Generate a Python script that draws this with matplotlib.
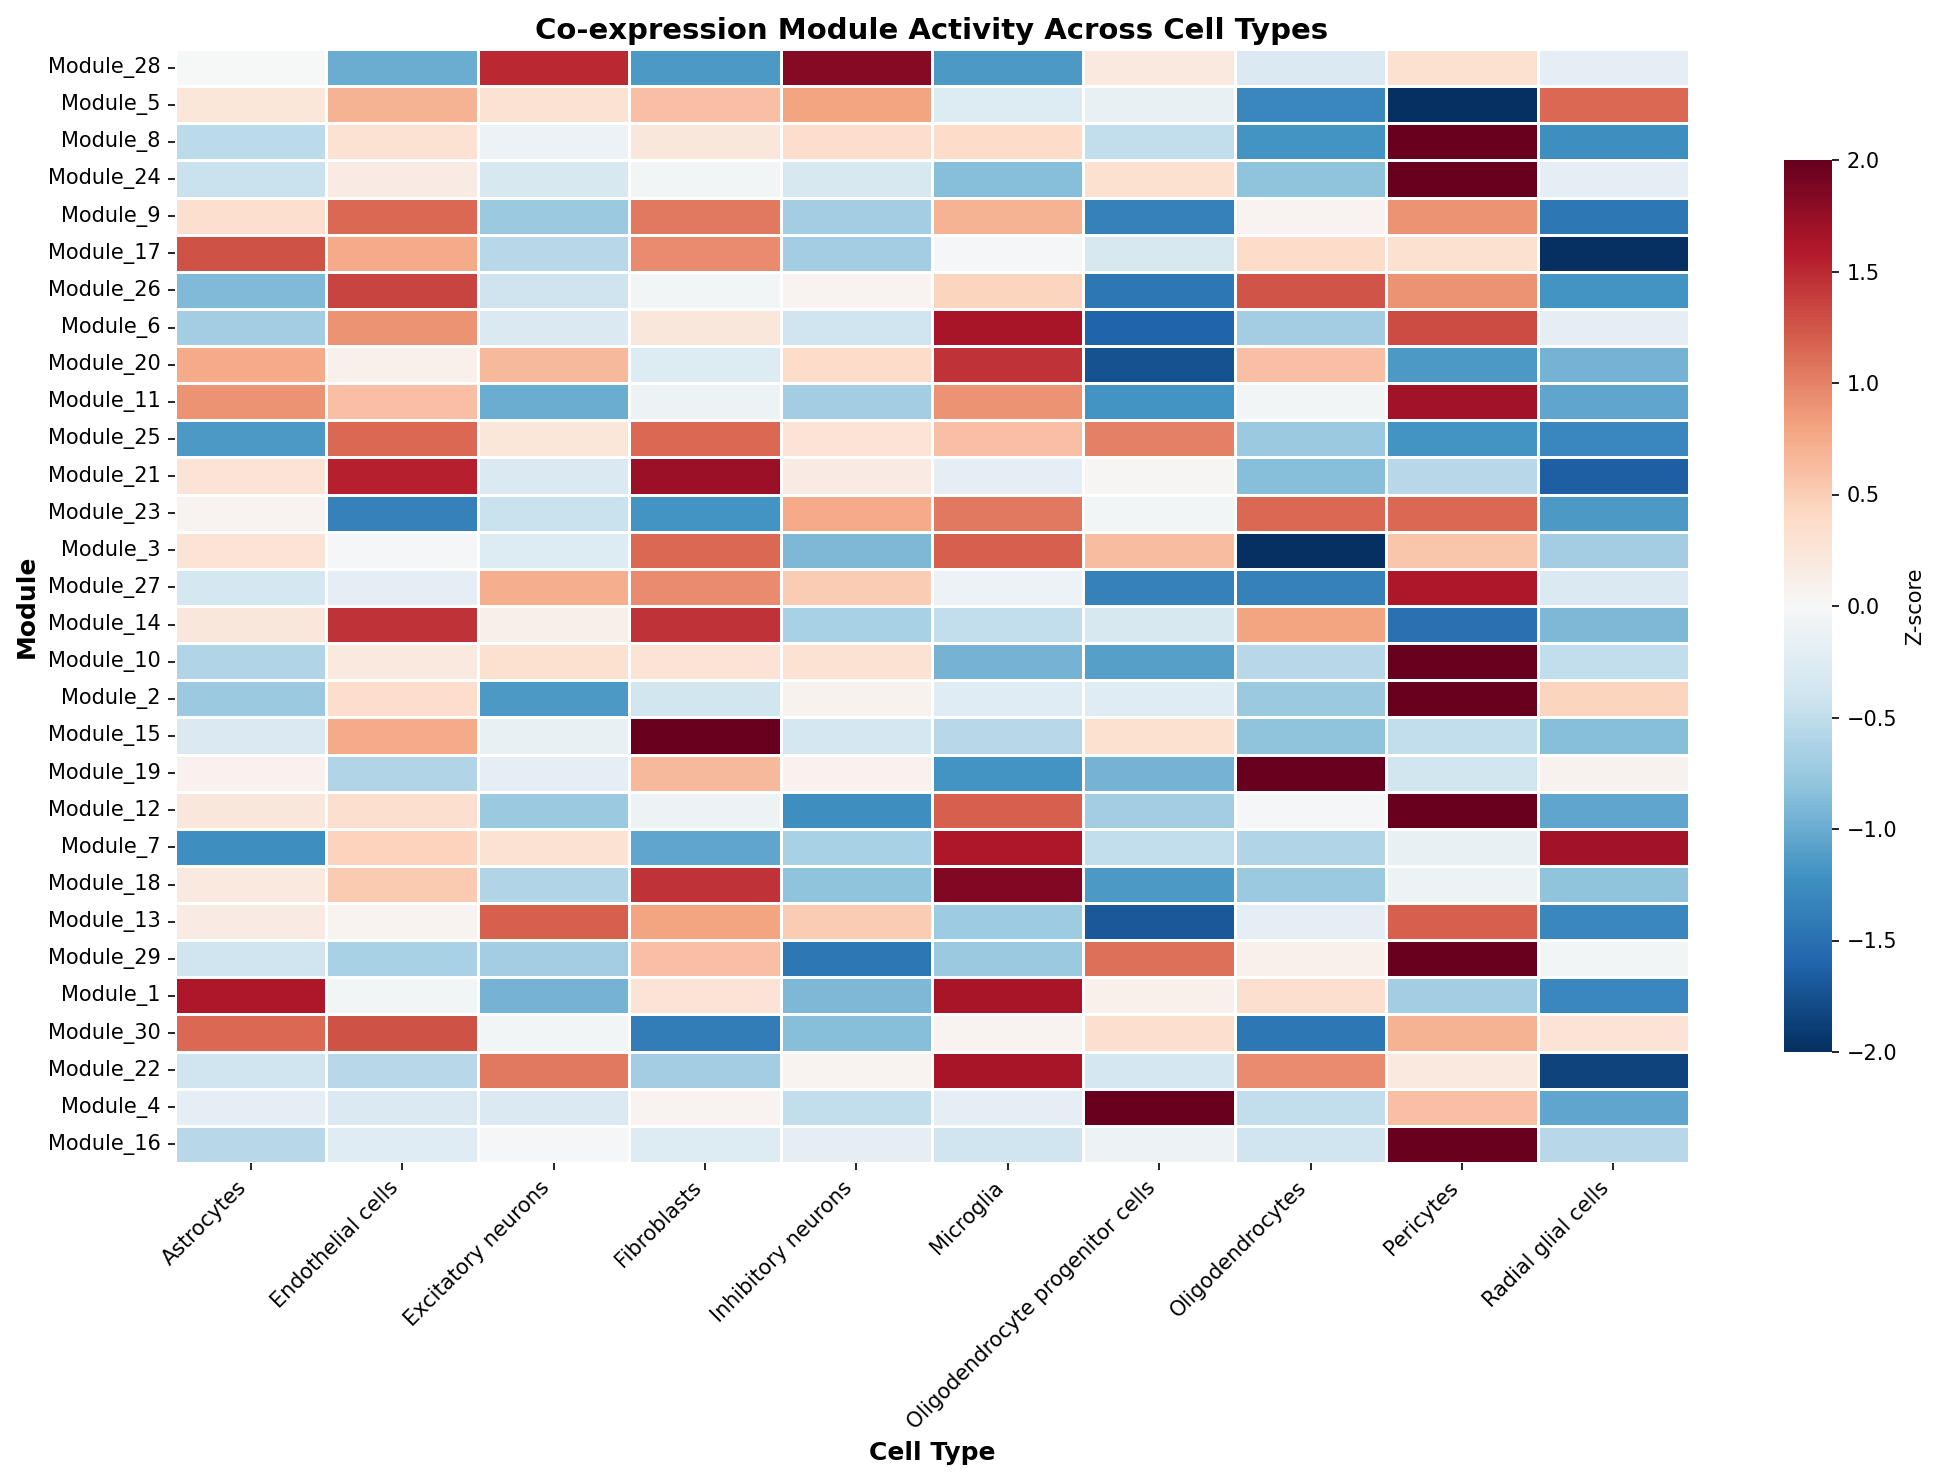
"""Heatmap of co-expression module activity across cell types."""

import matplotlib

matplotlib.use("Agg")
import matplotlib.pyplot as plt
import pandas as pd
import seaborn as sns

cell_types = [
    "Astrocytes", "Endothelial cells", "Excitatory neurons", "Fibroblasts",
    "Inhibitory neurons", "Microglia", "Oligodendrocyte progenitor cells",
    "Oligodendrocytes", "Pericytes", "Radial glial cells",
]
modules = [
    "Module_28", "Module_5", "Module_8", "Module_24", "Module_9", "Module_17",
    "Module_26", "Module_6", "Module_20", "Module_11", "Module_25", "Module_21",
    "Module_23", "Module_3", "Module_27", "Module_14", "Module_10", "Module_2",
    "Module_15", "Module_19", "Module_12", "Module_7", "Module_18", "Module_13",
    "Module_29", "Module_1", "Module_30", "Module_22", "Module_4", "Module_16",
]
zscores = [
    [-0.01, -1.0, 1.5, -1.15, 1.82, -1.15, 0.2, -0.3, 0.32, -0.2],
    [0.24, 0.7, 0.3, 0.6, 0.8, -0.28, -0.15, -1.3, -2.0, 1.15],
    [-0.54, 0.3, -0.12, 0.22, 0.36, 0.38, -0.5, -1.2, 2.0, -1.25],
    [-0.45, 0.16, -0.33, -0.05, -0.33, -0.85, 0.32, -0.8, 2.0, -0.2],
    [0.34, 1.15, -0.75, 1.05, -0.7, 0.7, -1.35, 0.05, 0.9, -1.45],
    [1.28, 0.75, -0.55, 0.95, -0.7, -0.02, -0.33, 0.38, 0.32, -2.0],
    [-0.88, 1.35, -0.42, -0.05, 0.05, 0.45, -1.45, 1.25, 0.9, -1.2],
    [-0.7, 0.9, -0.3, 0.22, -0.4, 1.65, -1.6, -0.7, 1.3, -0.2],
    [0.75, 0.1, 0.65, -0.28, 0.38, 1.45, -1.75, 0.6, -1.15, -0.95],
    [0.9, 0.6, -1.0, -0.1, -0.7, 0.9, -1.2, -0.05, 1.68, -1.05],
    [-1.15, 1.15, 0.24, 1.15, 0.28, 0.6, 1.0, -0.75, -1.2, -1.3],
    [0.28, 1.55, -0.3, 1.72, 0.17, -0.2, 0.03, -0.85, -0.55, -1.65],
    [0.05, -1.35, -0.45, -1.2, 0.75, 1.05, -0.05, 1.15, 1.15, -1.15],
    [0.28, -0.02, -0.28, 1.15, -0.9, 1.2, 0.62, -2.0, 0.55, -0.7],
    [-0.35, -0.2, 0.72, 0.95, 0.5, -0.12, -1.35, -1.35, 1.62, -0.3],
    [0.22, 1.45, 0.12, 1.45, -0.65, -0.5, -0.33, 0.8, -1.5, -0.9],
    [-0.6, 0.2, 0.32, 0.28, 0.3, -0.95, -1.1, -0.55, 2.0, -0.5],
    [-0.75, 0.36, -1.15, -0.38, 0.07, -0.25, -0.25, -0.75, 2.0, 0.44],
    [-0.3, 0.75, -0.15, 2.0, -0.35, -0.55, 0.32, -0.8, -0.5, -0.85],
    [0.08, -0.6, -0.2, 0.65, 0.08, -1.2, -0.95, 2.0, -0.38, 0.07],
    [0.22, 0.33, -0.75, -0.1, -1.25, 1.2, -0.7, -0.02, 2.0, -1.05],
    [-1.25, 0.46, 0.3, -1.05, -0.65, 1.62, -0.5, -0.6, -0.15, 1.68],
    [0.2, 0.52, -0.6, 1.45, -0.8, 1.85, -1.15, -0.75, -0.1, -0.8],
    [0.16, 0.05, 1.2, 0.8, 0.5, -0.72, -1.7, -0.2, 1.2, -1.3],
    [-0.4, -0.65, -0.7, 0.6, -1.45, -0.75, 1.1, 0.1, 2.0, -0.05],
    [1.62, -0.05, -0.95, 0.27, -0.9, 1.65, 0.1, 0.33, -0.7, -1.3],
    [1.15, 1.28, -0.05, -1.4, -0.85, 0.05, 0.33, -1.45, 0.7, 0.28],
    [-0.4, -0.55, 1.05, -0.7, 0.05, 1.65, -0.35, 0.95, 0.2, -1.85],
    [-0.2, -0.3, -0.3, 0.05, -0.5, -0.2, 2.0, -0.5, 0.6, -1.05],
    [-0.55, -0.25, -0.03, -0.28, -0.2, -0.4, -0.1, -0.4, 2.0, -0.55],
]

W, H = 1936, 1481
DPI = 150


def main():
    data = pd.DataFrame(zscores, index=modules, columns=cell_types)

    fig = plt.figure(figsize=(W / DPI, H / DPI), dpi=DPI)
    ax = fig.add_axes([175 / W, 1 - 1163 / H, 1514 / W, 1114 / H])
    cax = fig.add_axes([1784 / W, 1 - 1052 / H, 48 / W, 892 / H])

    sns.heatmap(
        data,
        cmap="RdBu_r",
        center=0,
        vmin=-2,
        vmax=2,
        linewidths=0.7,
        linecolor="white",
        ax=ax,
        cbar_ax=cax,
        cbar_kws={"label": "Z-score"},
        yticklabels=True,
    )
    ax.set_title("Co-expression Module Activity Across Cell Types",
                 fontsize=14, fontweight="bold", pad=5)
    ax.set_xlabel("Cell Type", fontsize=12, fontweight="bold")
    ax.set_ylabel("Module", fontsize=12, fontweight="bold")
    ax.tick_params(axis="both", labelsize=10)
    plt.setp(ax.get_xticklabels(), rotation=45, ha="right")
    plt.setp(ax.get_yticklabels(), rotation=0)

    fig.savefig("out.png", dpi=DPI)
    plt.close(fig)


if __name__ == "__main__":
    main()
